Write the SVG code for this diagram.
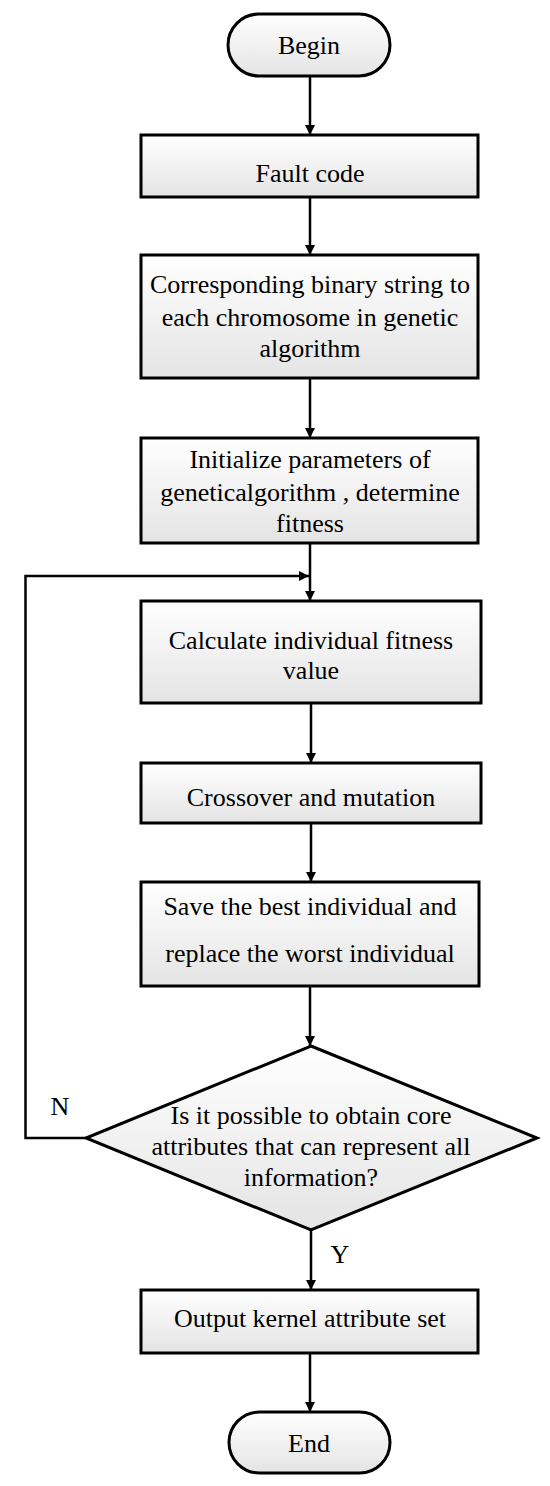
<svg xmlns="http://www.w3.org/2000/svg" width="550" height="1486" viewBox="0 0 550 1486">
<defs>
<linearGradient id="g" x1="0" y1="0" x2="0" y2="1">
<stop offset="0" stop-color="#ffffff"/>
<stop offset="1" stop-color="#e4e4e4"/>
</linearGradient>
<marker id="ah" viewBox="0 0 10 10" refX="10" refY="5" markerWidth="10" markerHeight="10" markerUnits="userSpaceOnUse" orient="auto">
<path d="M0,0 L10,5 L0,10 z" fill="#000"/>
</marker>
</defs>
<style>
.box{fill:url(#g);stroke:#000;stroke-width:3}
.t{font-family:"Liberation Serif","Times New Roman",serif;font-size:26px;fill:#000;text-anchor:middle}
.c{fill:none;stroke:#000;stroke-width:2.5;marker-end:url(#ah)}
.l{fill:none;stroke:#000;stroke-width:2.5}
</style>
<rect width="550" height="1486" fill="#fff"/>
<g id="connectors">
<line class="c" x1="310" y1="76" x2="310" y2="135"/>
<line class="c" x1="310" y1="197" x2="310" y2="255"/>
<line class="c" x1="310" y1="378" x2="310" y2="438"/>
<line class="l" x1="310" y1="543" x2="310" y2="576"/>
<line class="c" x1="310" y1="576" x2="310" y2="601"/>
<line class="c" x1="311" y1="703" x2="311" y2="763"/>
<line class="c" x1="311" y1="823" x2="311" y2="882"/>
<line class="c" x1="310" y1="986" x2="310" y2="1046"/>
<line class="c" x1="311" y1="1230" x2="311" y2="1290"/>
<line class="c" x1="310" y1="1353" x2="310" y2="1412"/>
<polyline class="c" points="86,1138 25.5,1138 25.5,576 309,576"/>
<text class="t" x="60" y="1115">N</text>
<text class="t" x="340" y="1263">Y</text>
</g>
<g id="begin">
<rect class="box" x="228" y="14" width="162" height="62" rx="31" ry="31"/>
<text class="t" x="309" y="54">Begin</text>
</g>
<g id="fault">
<rect class="box" x="141" y="135" width="337" height="62"/>
<text class="t" x="310" y="182">Fault code</text>
</g>
<g id="binary">
<rect class="box" x="141" y="255" width="337" height="123"/>
<text class="t" x="310" y="293">Corresponding binary string to</text>
<text class="t" x="310" y="326">each chromosome in genetic</text>
<text class="t" x="310" y="357">algorithm</text>
</g>
<g id="init">
<rect class="box" x="141" y="438" width="337" height="105"/>
<text class="t" x="310" y="468">Initialize parameters of</text>
<text class="t" x="310" y="501">geneticalgorithm , determine</text>
<text class="t" x="310" y="532">fitness</text>
</g>
<g id="calc">
<rect class="box" x="141" y="601" width="340" height="102"/>
<text class="t" x="311" y="649">Calculate individual fitness</text>
<text class="t" x="311" y="679">value</text>
</g>
<g id="cross">
<rect class="box" x="141" y="763" width="340" height="60"/>
<text class="t" x="311" y="806">Crossover and mutation</text>
</g>
<g id="save">
<rect class="box" x="141" y="882" width="338" height="104"/>
<text class="t" x="310" y="915">Save the best individual and</text>
<text class="t" x="310" y="962">replace the worst individual</text>
</g>
<g id="decision">
<polygon class="box" points="311,1046 537,1138 311,1230 86,1138"/>
<text class="t" x="311" y="1124">Is it possible to obtain core</text>
<text class="t" x="311" y="1155">attributes that can represent all</text>
<text class="t" x="311" y="1186">information?</text>
</g>
<g id="output">
<rect class="box" x="141" y="1290" width="337" height="63"/>
<text class="t" x="310" y="1327">Output kernel attribute set</text>
</g>
<g id="end">
<rect class="box" x="229" y="1412" width="161" height="61" rx="30.5" ry="30.5"/>
<text class="t" x="309" y="1452">End</text>
</g>
</svg>
